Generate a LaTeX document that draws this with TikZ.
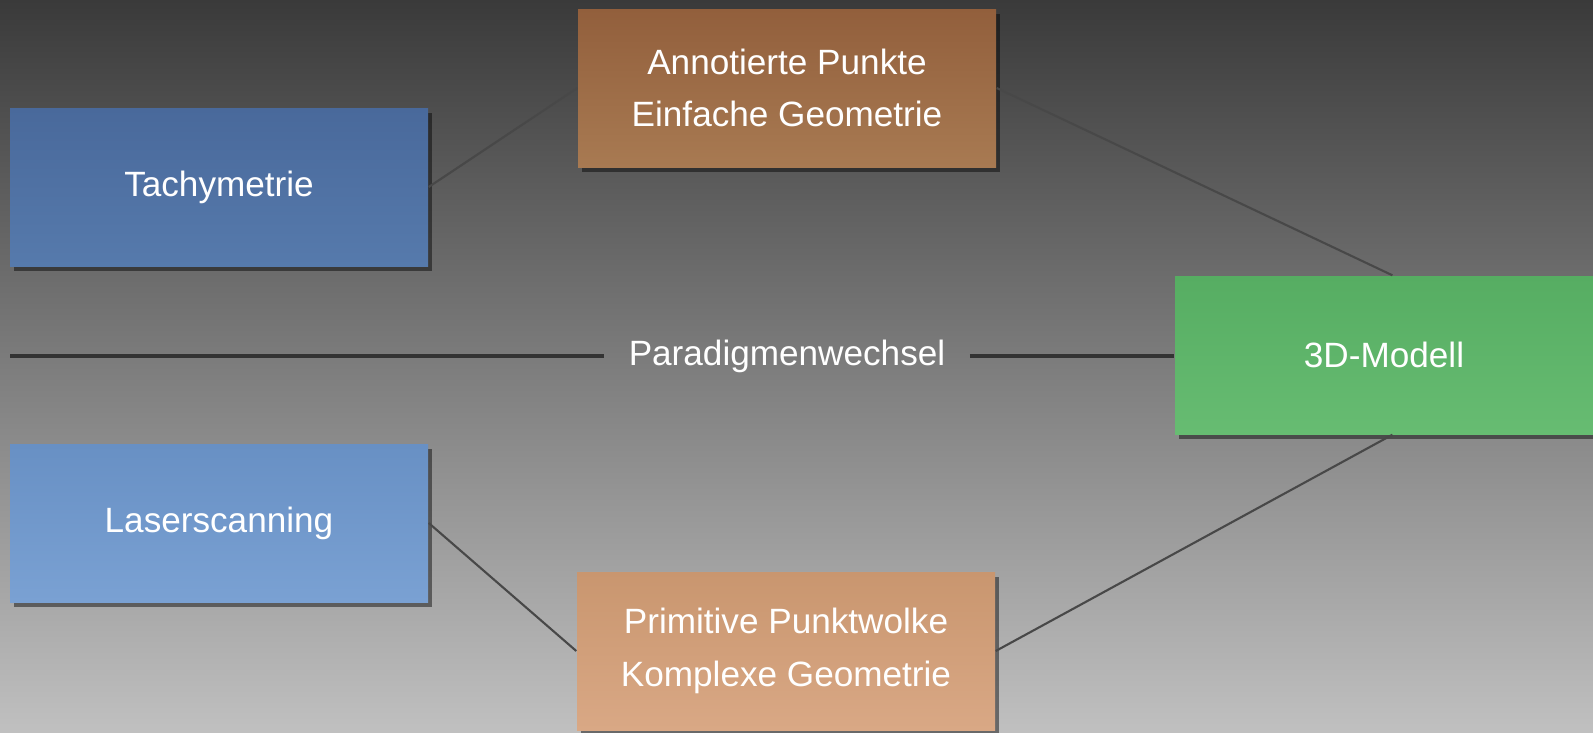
\documentclass[tikz,border=0pt]{standalone}
\usepackage{fontspec}
\setmainfont{Liberation Sans}
\usepackage{tikz}
\usetikzlibrary{positioning,calc,shadows}
\definecolor{bgTop}{RGB}{58,58,58}
\definecolor{bgBottom}{RGB}{192,192,192}
\definecolor{geoBlueTop}{RGB}{73,105,155}
\definecolor{geoBlueBot}{RGB}{86,122,172}
\definecolor{geoSkyTop}{RGB}{104,144,196}
\definecolor{geoSkyBot}{RGB}{122,161,211}
\definecolor{geoBrownTop}{RGB}{146,95,60}
\definecolor{geoBrownBot}{RGB}{168,122,82}
\definecolor{geoSandTop}{RGB}{201,150,111}
\definecolor{geoSandBot}{RGB}{217,168,133}
\definecolor{geoGreenTop}{RGB}{86,173,98}
\definecolor{geoGreenBot}{RGB}{103,188,114}
\definecolor{lineGray}{RGB}{72,72,72}
\tikzset{
  box/.style={rectangle, draw=none, align=center, text=white,
              minimum width=4.18cm, minimum height=1.58cm, inner sep=2pt,
              font=\fontsize{10}{15}\selectfont,
              drop shadow={shadow xshift=0.04cm, shadow yshift=-0.05cm, opacity=0.45, fill=black}},
  bluebox/.style={box, top color=geoBlueTop, bottom color=geoBlueBot},
  skybox/.style={box, top color=geoSkyTop, bottom color=geoSkyBot},
  brownbox/.style={box, top color=geoBrownTop, bottom color=geoBrownBot},
  sandbox/.style={box, top color=geoSandTop, bottom color=geoSandBot},
  greenbox/.style={box, top color=geoGreenTop, bottom color=geoGreenBot},
  link/.style={draw=lineGray, line width=0.6pt},
  divider/.style={draw=black!80, line width=0.9pt}
}
\begin{document}
\begin{tikzpicture}
\useasboundingbox[top color=bgTop, bottom color=bgBottom] (0,0) rectangle (15.93,7.32);
\fill[top color=bgTop, bottom color=bgBottom] (0,0) rectangle (15.93,7.32);
\node[bluebox] (tachy) at (2.19,5.45) {Tachymetrie};
\node[skybox] (laser) at (2.19,2.09) {Laserscanning};
\node[brownbox] (annot) at (7.87,6.44) {Annotierte Punkte\\Einfache Geometrie};
\node[sandbox] (prim) at (7.86,0.81) {Primitive Punktwolke\\Komplexe Geometrie};
\node[greenbox] (model) at (13.84,3.77) {3D-Modell};
\draw[link] (tachy.east) -- (annot.west);
\draw[link] (annot.east) -- (model.84);
\draw[link] (laser.east) -- (prim.west);
\draw[link] (prim.east) -- (model.-84);
% paradigm shift line
\coordinate (start) at (0.10,3.76);
\node[text=white, font=\fontsize{10}{12}\selectfont, inner xsep=0.24cm] (shift) at (7.87,3.76) {Paradigmenwechsel};
\draw[divider] (start) -- (shift.west);
\draw[divider] (shift.east) -- (model.west |- shift.east);
\end{tikzpicture}
\end{document}
